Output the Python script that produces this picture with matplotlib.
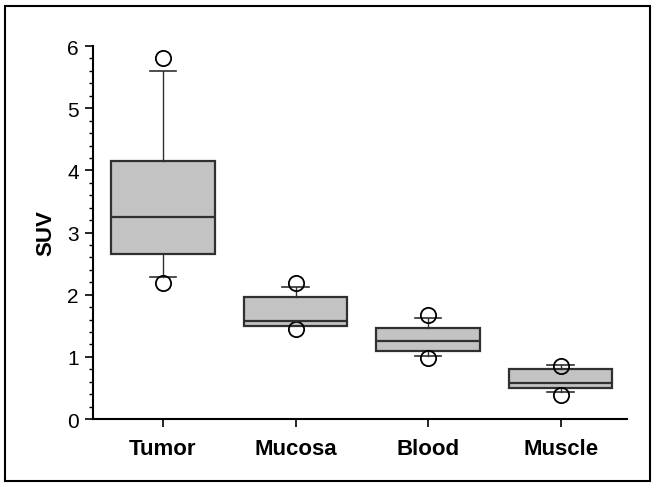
import matplotlib
matplotlib.use("Agg")
import matplotlib.pyplot as plt
from matplotlib.patches import Rectangle
from matplotlib.ticker import MultipleLocator

plt.rcParams['font.family'] = ['Liberation Sans', 'DejaVu Sans']

# data
tissues = ['Tumor', 'Mucosa', 'Blood', 'Muscle']
q1 = [2.66, 1.50, 1.10, 0.50]
median = [3.25, 1.58, 1.25, 0.58]
q3 = [4.15, 1.97, 1.46, 0.80]
whisker_lo = [2.28, 1.50, 1.02, 0.43]
whisker_hi = [5.60, 2.13, 1.63, 0.87]
outliers = [[5.80, 2.18], [2.18, 1.45], [1.68, 0.98], [0.85, 0.38]]

stats = []
for i in range(len(tissues)):
    stats.append({'label': tissues[i], 'q1': q1[i], 'med': median[i], 'q3': q3[i],
                  'whislo': whisker_lo[i], 'whishi': whisker_hi[i], 'fliers': outliers[i]})

fig = plt.figure(figsize=(6.53, 4.85), dpi=100)
ax = fig.add_axes([0.142, 0.134, 0.818, 0.769])

ec = '#303030'
ax.bxp(stats, positions=[1, 2, 3, 4], widths=0.78, patch_artist=True, showfliers=True,
       boxprops=dict(facecolor='#c3c3c3', edgecolor=ec, linewidth=1.6),
       medianprops=dict(color=ec, linewidth=1.6),
       whiskerprops=dict(color=ec, linewidth=1.0),
       capprops=dict(color=ec, linewidth=1.2),
       capwidths=0.2,
       flierprops=dict(marker='o', markersize=11, markerfacecolor='none',
                       markeredgecolor='black', markeredgewidth=1.3))

ax.set_xlim(0.47, 4.5)
ax.set_ylim(0, 6)
ax.yaxis.set_major_locator(MultipleLocator(1))
ax.yaxis.set_minor_locator(MultipleLocator(0.2))
ax.spines['top'].set_visible(False)
ax.spines['right'].set_visible(False)
ax.spines['left'].set_linewidth(1.5)
ax.spines['bottom'].set_linewidth(1.5)
ax.tick_params(axis='y', which='major', length=6, width=1.2, labelsize=15, pad=4)
ax.tick_params(axis='y', which='minor', length=3, width=1.0)
ax.tick_params(axis='x', length=6, width=1.2, labelsize=16, pad=8)
for lab in ax.get_xticklabels():
    lab.set_fontweight('bold')
ax.set_ylabel('SUV', fontsize=16, fontweight='bold', labelpad=8)

# border around the whole figure
fig.patches.append(Rectangle((0.008, 0.006), 0.988, 0.98, transform=fig.transFigure,
                             fill=False, edgecolor='black', linewidth=1.5))

fig.savefig('out.png', dpi=100)
